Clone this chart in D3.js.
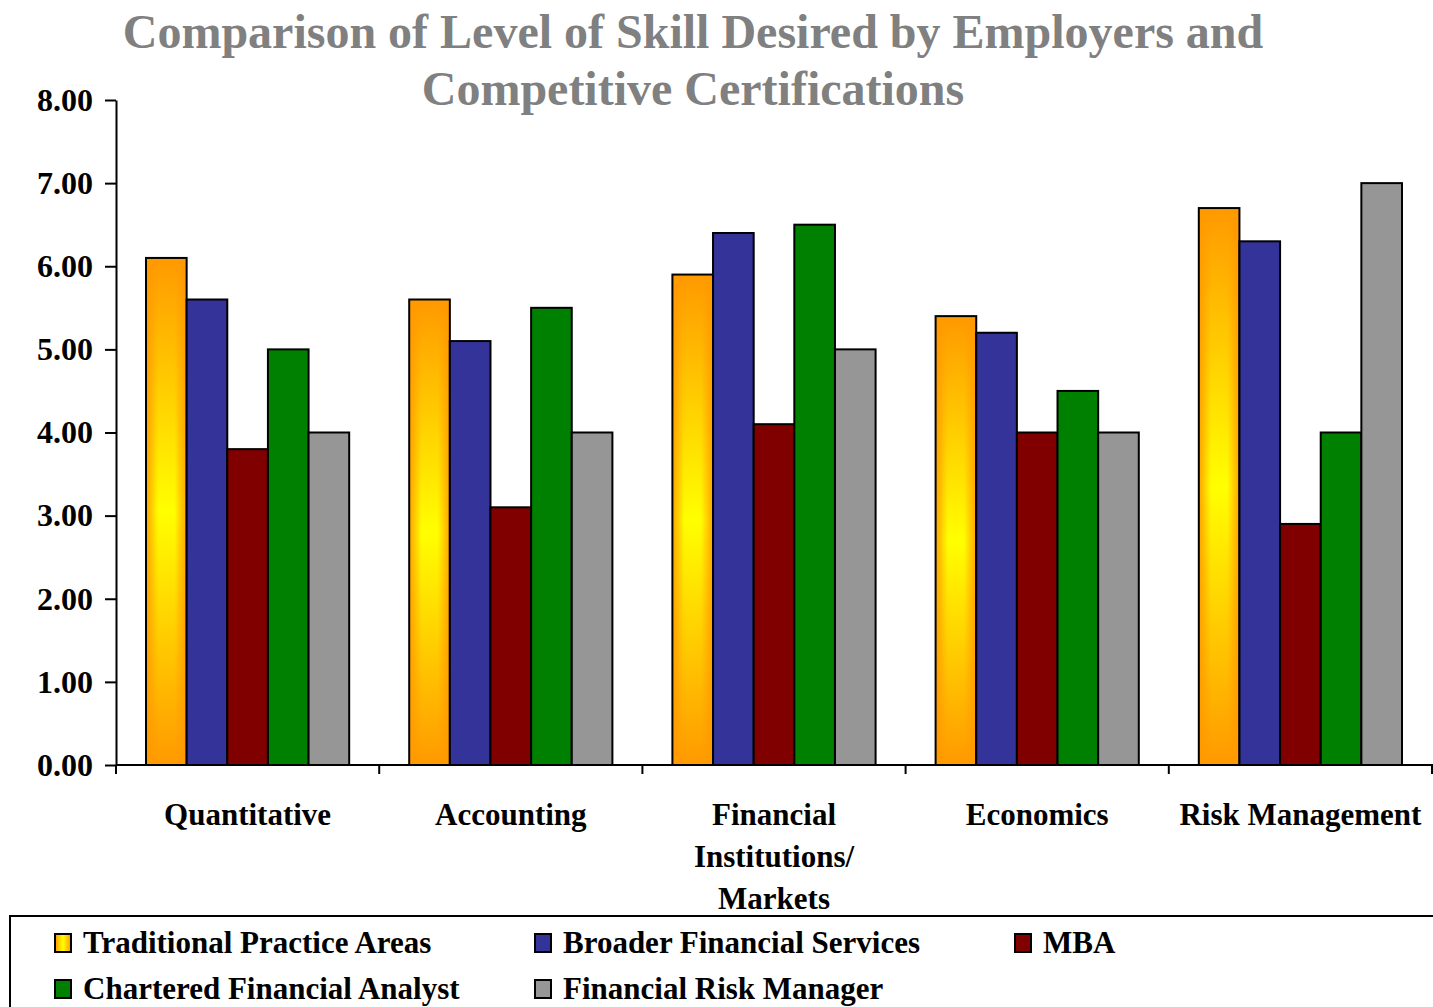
<!DOCTYPE html>
<html>
<head>
<meta charset="utf-8">
<script src="https://cdn.jsdelivr.net/npm/d3@7"></script>
<style>
  html, body { margin: 0; padding: 0; background: #fff; }
  svg { display: block; }
  text { font-family: "Liberation Serif", "Times New Roman", serif; font-weight: bold; }
</style>
</head>
<body>
<svg id="chart" width="1433" height="1007"></svg>
<script>
// Skill areas along the x axis (label lines for wrapping)
const categories = ["Quantitative", "Accounting", "Financial Institutions/ Markets", "Economics", "Risk Management"];
const categoryLines = [["Quantitative"], ["Accounting"], ["Financial", "Institutions/", "Markets"], ["Economics"], ["Risk Management"]];

const seriesNames = ["Traditional Practice Areas", "Broader Financial Services", "MBA", "Chartered Financial Analyst", "Financial Risk Manager"];

// Level of skill per series, one value per category
const traditional = [6.1, 5.6, 5.9, 5.4, 6.7];
const broader     = [5.6, 5.1, 6.4, 5.2, 6.3];
const mba         = [3.8, 3.1, 4.1, 4.0, 2.9];
const cfa         = [5.0, 5.5, 6.5, 4.5, 4.0];
const frm         = [4.0, 4.0, 5.0, 4.0, 7.0];
const seriesValues = [traditional, broader, mba, cfa, frm];

const yTicks = [0, 1, 2, 3, 4, 5, 6, 7, 8];

const fills = ["url(#gradTrad)", "#333399", "#800000", "#008000", "#969696"];

const svg = d3.select("#chart");
const defs = svg.append("defs");

// Vertical orange-yellow-orange gradient for the first series
const gv = defs.append("linearGradient").attr("id", "gradTrad")
  .attr("x1", 0).attr("y1", 0).attr("x2", 0).attr("y2", 1);
gv.append("stop").attr("offset", "0%").attr("stop-color", "#FF9900");
gv.append("stop").attr("offset", "50%").attr("stop-color", "#FFFF00");
gv.append("stop").attr("offset", "100%").attr("stop-color", "#FF9900");
// Horizontal edge shading laid over it
const gh = defs.append("linearGradient").attr("id", "gradEdge")
  .attr("x1", 0).attr("y1", 0).attr("x2", 1).attr("y2", 0);
gh.append("stop").attr("offset", "0%").attr("stop-color", "#FF9900").attr("stop-opacity", 0.9);
gh.append("stop").attr("offset", "30%").attr("stop-color", "#FF9900").attr("stop-opacity", 0);
gh.append("stop").attr("offset", "70%").attr("stop-color", "#FF9900").attr("stop-opacity", 0);
gh.append("stop").attr("offset", "100%").attr("stop-color", "#FF9900").attr("stop-opacity", 0.9);

const plot = { left: 116, right: 1432, top: 100, bottom: 765 };

const y = d3.scaleLinear().domain([0, 8]).range([plot.bottom, plot.top]);
const x0 = d3.scaleBand().domain(categories).range([plot.left, plot.right]).padding(0);
const bw = x0.bandwidth();
const x1 = d3.scaleBand().domain(seriesNames).range([bw * 0.114, bw * 0.886]).padding(0);

// Title
const title = svg.append("g");
["Comparison of Level of Skill Desired by Employers and", "Competitive Certifications"].forEach((t, i) => {
  title.append("text")
    .attr("x", 693).attr("y", 48 + i * 57)
    .attr("text-anchor", "middle")
    .attr("fill", "#808080")
    .style("font-size", "48px")
    .text(t);
});

// Bars
const groups = svg.append("g").selectAll("g").data(categories).join("g")
  .attr("transform", d => `translate(${x0(d)},0)`);

groups.each(function (cat, ci) {
  const g = d3.select(this);
  seriesNames.forEach((s, si) => {
    const v = seriesValues[si][ci];
    const rx = x1(s), ry = y(v), rw = x1.bandwidth(), rh = y(0) - y(v);
    g.append("rect")
      .attr("x", rx).attr("y", ry).attr("width", rw).attr("height", rh)
      .attr("fill", fills[si]);
    if (si === 0) {
      g.append("rect")
        .attr("x", rx).attr("y", ry).attr("width", rw).attr("height", rh)
        .attr("fill", "url(#gradEdge)");
    }
    g.append("rect")
      .attr("x", rx).attr("y", ry).attr("width", rw).attr("height", rh)
      .attr("fill", "none").attr("stroke", "#000").attr("stroke-width", 2);
  });
});

// Y axis
const yAxis = svg.append("g")
  .attr("transform", `translate(${plot.left},0)`)
  .call(d3.axisLeft(y).tickValues(yTicks).tickFormat(d3.format(".2f")).tickSizeInner(11).tickSizeOuter(0).tickPadding(12));
yAxis.select(".domain").attr("stroke", "#000").attr("stroke-width", 2);
yAxis.selectAll(".tick line").attr("stroke", "#000").attr("stroke-width", 2);
yAxis.selectAll(".tick text")
  .attr("fill", "#000")
  .style("font-size", "32px")
  .style("font-family", "'Liberation Serif', serif")
  .style("font-weight", "bold");

// X axis: baseline with ticks at category boundaries
const xAxis = svg.append("g");
xAxis.append("line")
  .attr("x1", plot.left).attr("x2", 1433)
  .attr("y1", y(0)).attr("y2", y(0))
  .attr("stroke", "#000").attr("stroke-width", 2);
const boundaries = categories.map(c => x0(c)).concat([plot.right]);
xAxis.selectAll("line.tick").data(boundaries).join("line")
  .attr("class", "tick")
  .attr("x1", d => d).attr("x2", d => d)
  .attr("y1", y(0)).attr("y2", y(0) + 9)
  .attr("stroke", "#000").attr("stroke-width", 2);

// Category labels
categories.forEach((c, ci) => {
  const t = svg.append("text")
    .attr("text-anchor", "middle")
    .attr("fill", "#000")
    .style("font-size", "31px");
  categoryLines[ci].forEach((line, li) => {
    t.append("tspan")
      .attr("x", x0(c) + bw / 2)
      .attr("y", 825 + li * 42)
      .text(line);
  });
});

// Legend box
svg.append("rect")
  .attr("x", 10).attr("y", 916).attr("width", 1440).attr("height", 120)
  .attr("fill", "#fff").attr("stroke", "#000").attr("stroke-width", 2);

const legendPos = [[55, 943], [535, 943], [1015, 943], [55, 989], [535, 989]];
const legendFills = ["url(#gradLegend)", "#333399", "#800000", "#008000", "#969696"];
const gl = defs.append("linearGradient").attr("id", "gradLegend")
  .attr("x1", 0).attr("y1", 0).attr("x2", 1).attr("y2", 0);
gl.append("stop").attr("offset", "0%").attr("stop-color", "#FF9900");
gl.append("stop").attr("offset", "50%").attr("stop-color", "#FFFF00");
gl.append("stop").attr("offset", "100%").attr("stop-color", "#FF9900");

const legend = svg.append("g").selectAll("g").data(seriesNames).join("g")
  .attr("transform", (d, i) => `translate(${legendPos[i][0]},${legendPos[i][1]})`);
legend.append("rect")
  .attr("x", 0).attr("y", -9).attr("width", 16).attr("height", 18)
  .attr("fill", (d, i) => legendFills[i])
  .attr("stroke", "#000").attr("stroke-width", 2);
legend.append("text")
  .attr("x", 28).attr("y", 10)
  .attr("fill", "#000")
  .style("font-size", "31px")
  .text(d => d);
</script>
</body>
</html>
